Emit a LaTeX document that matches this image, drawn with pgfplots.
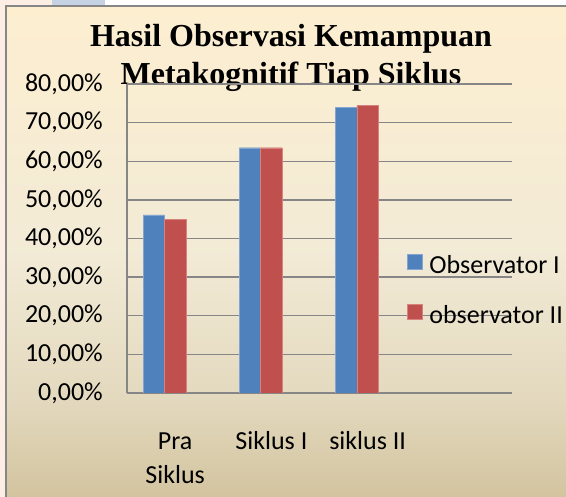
\documentclass[border=0pt]{standalone}
\usepackage{pgfplots}
\pgfplotsset{compat=1.18}
\usepackage{fontspec}
\setmainfont{Carlito}
\newfontfamily\titlefont{Liberation Serif}
\definecolor{obsblue}{RGB}{79,129,189}
\definecolor{obsred}{RGB}{192,80,77}
\definecolor{gridgray}{RGB}{134,134,134}
\definecolor{pinkbg}{RGB}{252,237,229}
\definecolor{wmblue}{RGB}{196,210,228}
\pgfdeclareverticalshading{chartbg}{100bp}{%
  rgb(0bp)=(0.827,0.769,0.624);
  rgb(25bp)=(0.827,0.769,0.624);
  rgb(35bp)=(0.890,0.850,0.745);
  rgb(50bp)=(0.950,0.920,0.840);
  rgb(75bp)=(0.992,0.933,0.816);
  rgb(100bp)=(0.992,0.933,0.816)}
\begin{document}
\begin{tikzpicture}[x=1bp,y=1bp]
\useasboundingbox (0,0) rectangle (566,497);
\fill[white] (0,0) rectangle (566,497);
\fill[pinkbg] (0,0) rectangle (6,497);
\fill[pinkbg] (0,491) rectangle (52,497);
\fill[wmblue] (52,491) rectangle (105,497);
\shade[shading=chartbg] (6,0) rectangle (566,491);
\draw[gridgray,line width=1.6bp] (6,-2) -- (6,491) -- (568,491);
\node[font=\titlefont\bfseries\fontsize{32bp}{38bp}\selectfont,anchor=base] at (291,450) {Hasil Observasi Kemampuan};
\node[font=\titlefont\bfseries\fontsize{32bp}{38bp}\selectfont,anchor=base] at (291,412) {Metakognitif Tiap Siklus};
\begin{axis}[
  at={(127bp,104bp)}, anchor=south west,
  scale only axis, width=385bp, height=309bp,
  xmin=-0.5, xmax=3.5, ymin=0, ymax=80,
  axis x line=bottom, axis y line=left,
  axis line style={-, gridgray, line width=1.4bp},
  major tick length=0pt,
  ymajorgrids, major grid style={gridgray, line width=1.3bp},
  ytick={0,10,...,80},
  yticklabels={{0,00\%},{10,00\%},{20,00\%},{30,00\%},{40,00\%},{50,00\%},{60,00\%},{70,00\%},{80,00\%}},
  yticklabel style={font=\fontsize{26bp}{31bp}\selectfont, anchor=east, inner sep=0pt, xshift=-24bp},
  xtick={0,1,2},
  xticklabels={{\rule{0pt}{19bp}Pra\\Siklus},{\rule{0pt}{19bp}Siklus I},{\rule{0pt}{19bp}siklus II}},
  xticklabel style={font=\fontsize{26bp}{34bp}\selectfont, align=center, anchor=north, inner sep=0pt, yshift=-37bp},
  legend style={draw=none, fill=none, at={(0.719,0.456)}, anchor=north west,
    font=\fontsize{26bp}{31bp}\selectfont,
    nodes={inner sep=0pt, text height=18bp, text depth=5bp},
    row sep=25bp, column sep=7bp},
  legend cell align=left,
  legend image code/.code={\fill[#1] (0bp,-2bp) rectangle (15bp,13bp);},
]
\addplot[ybar, bar width=21.4bp, bar shift=-21.4bp, fill=obsblue, draw={rgb,255:red,130;green,165;blue,210}, line width=0.4bp]
  coordinates {(0,46.1) (1,63.5) (2,74.0)};
\addlegendentry{Observator I}
\addplot[ybar, bar width=21.4bp, bar shift=0bp, fill=obsred, draw={rgb,255:red,215;green,130;blue,128}, line width=0.4bp]
  coordinates {(0,45.0) (1,63.5) (2,74.5)};
\addlegendentry{observator II}
\end{axis}
\end{tikzpicture}
\end{document}
